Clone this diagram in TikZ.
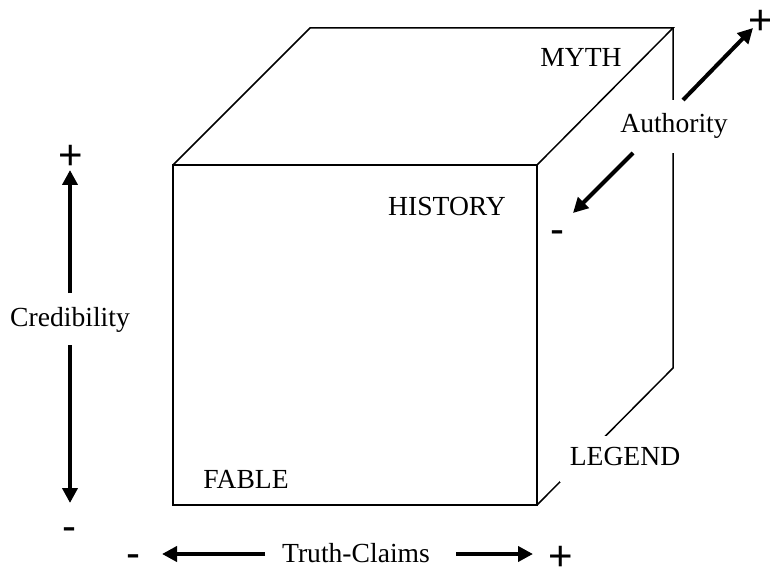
\documentclass[tikz,border=0pt]{standalone}
\usepackage{fontspec}
\setmainfont{Liberation Serif}
\newfontfamily\signfont{Liberation Sans}
\usetikzlibrary{arrows.meta}
\begin{document}
\begin{tikzpicture}[x=0.5pt,y=-0.5pt,
  edge/.style={line width=0.75pt, line join=miter},
  axis/.style={line width=2pt, -{Triangle[length=7.5pt,width=7.5pt]}},
  lbl/.style={font=\fontsize{13.8pt}{16pt}\selectfont, inner sep=0pt, anchor=base},
  gaplbl/.style={lbl, anchor=center, fill=white, text height=9.5pt, text depth=3pt},
  sign/.style={font=\signfont\fontsize{21pt}{24pt}\selectfont, inner sep=0pt}]
\useasboundingbox (0,0) rectangle (770,572);

% cube corners
\coordinate (ftl) at (173,165);
\coordinate (ftr) at (537,165);
\coordinate (fbr) at (537,505);
\coordinate (fbl) at (173,505);
\coordinate (btl) at (310,28);
\coordinate (btr) at (673,28);
\coordinate (bbr) at (673,368);

% visible edges of the cube
\draw[edge] (ftl) -- (ftr) -- (fbr) -- (fbl) -- cycle;
\draw[edge] (ftl) -- (btl) -- (btr) -- (ftr);
\draw[edge] (btr) -- (bbr) -- (fbr);

% corner labels
\node[lbl] (myth) at (581,67) {MYTH};
\node[lbl] (history) at (447,215) {HISTORY};
\node[lbl] (fable) at (246,488) {FABLE};
\node[gaplbl, minimum width=65pt, minimum height=23pt] (legend) at (625,459) {LEGEND};

% authority axis (depth)
\node[gaplbl, inner xsep=2pt, minimum height=26.5pt] (auth) at (674,126.5) {Authority};
\coordinate (authhi) at (683,100);
\coordinate (authhitip) at (753,28);
\coordinate (authlo) at (633,153);
\coordinate (authlotip) at (573,213);
\draw[axis] (authhi) -- (authhitip);
\draw[axis] (authlo) -- (authlotip);
\node[sign] (authplus) at (761,22) {+};
\node[sign] (authminus) at (557,237) {-};

% credibility axis (vertical)
\node[lbl] (cred) at (70,326) {Credibility};
\coordinate (credhi) at (70,293);
\coordinate (credhitip) at (70,170);
\coordinate (credlo) at (70,345);
\coordinate (credlotip) at (70,503);
\draw[axis] (credhi) -- (credhitip);
\draw[axis] (credlo) -- (credlotip);
\node[sign] (credplus) at (71,157) {+};
\node[sign] (credminus) at (69,534) {-};

% truth-claims axis (horizontal)
\node[lbl] (truth) at (356,562) {Truth-Claims};
\coordinate (truthlo) at (265,554);
\coordinate (truthlotip) at (162,554);
\coordinate (truthhi) at (456,554);
\coordinate (truthhitip) at (533,554);
\draw[axis] (truthlo) -- (truthlotip);
\draw[axis] (truthhi) -- (truthhitip);
\node[sign] (truthminus) at (133,561) {-};
\node[sign] (truthplus) at (561,558) {+};
\end{tikzpicture}
\end{document}
